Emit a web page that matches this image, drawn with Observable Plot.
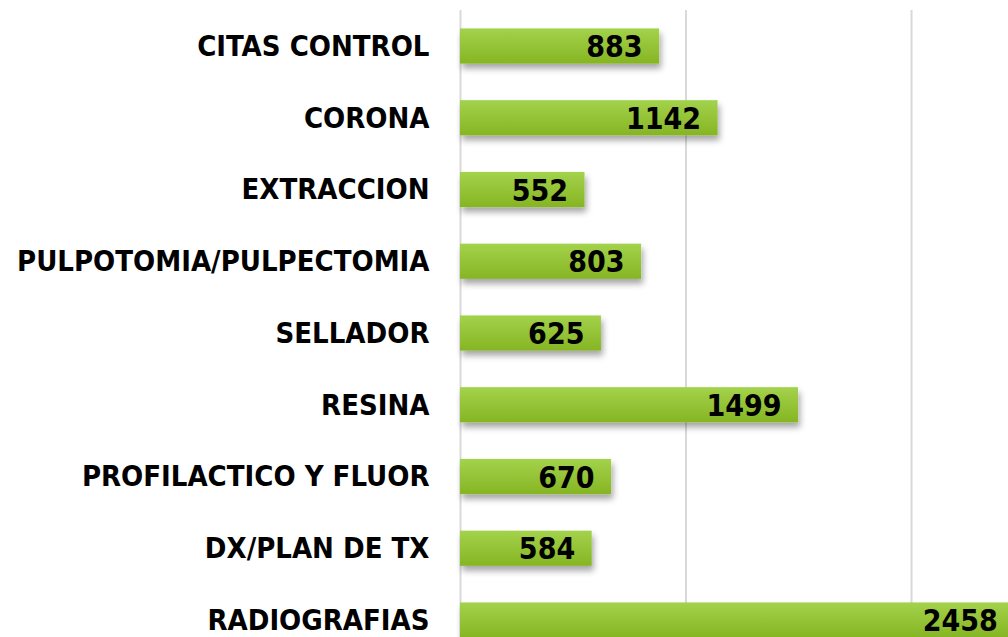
<!DOCTYPE html>
<html>
<head>
<meta charset="utf-8">
<script src="https://cdn.jsdelivr.net/npm/d3@7"></script>
<script src="https://cdn.jsdelivr.net/npm/@observablehq/plot@0.6"></script>
<style>
  html, body { margin: 0; padding: 0; background: #fff; overflow: hidden; }
  #chart { width: 1008px; height: 637px; }
</style>
</head>
<body>
<div id="chart"></div>
<script>
const categories = [
  "CITAS CONTROL",
  "CORONA",
  "EXTRACCION",
  "PULPOTOMIA/PULPECTOMIA",
  "SELLADOR",
  "RESINA",
  "PROFILACTICO Y FLUOR",
  "DX/PLAN DE TX",
  "RADIOGRAFIAS"
];
const values = [883, 1142, 552, 803, 625, 1499, 670, 584, 2458];
const gridTicks = [0, 1000, 2000];

const data = categories.map((c, i) => ({category: c, value: values[i]}));

const FONT = "'DejaVu Sans Condensed', 'DejaVu Sans', sans-serif";

const step = 71.75, pad = 0.51;
const y0 = 46 - step * (1 + pad) / 2;
const y1 = y0 + step * (categories.length + pad);

const chart = Plot.plot({
  width: 1008,
  height: 637,
  marginLeft: 460,
  marginRight: 0,
  marginTop: 10,
  marginBottom: 0,
  style: {fontFamily: FONT, background: "#fff", overflow: "hidden"},
  x: {domain: [0, 2430], axis: null},
  y: {domain: categories, range: [y0, y1], padding: pad, round: false, label: null,
      tickSize: 0, tickPadding: 30},
  marks: [
    Plot.ruleX(gridTicks, {stroke: "#d9d9d9", strokeWidth: 2}),
    Plot.barX(data, {x: "value", y: "category", fill: "url(#barGrad)"}),
    Plot.text(data, {
      x: "value", y: "category", text: d => String(d.value),
      textAnchor: "end", dx: -17, dy: 1,
      fontSize: 30, fontWeight: "bold", fill: "#000"
    }),
    Plot.axisY({tickSize: 0, tickPadding: 31, fontSize: 29, fontWeight: "bold",
      label: null, fill: "#000"})
  ]
});

const svg = d3.select(chart);
const defs = svg.insert("defs", ":first-child");
const g = defs.append("linearGradient").attr("id", "barGrad")
  .attr("x1", 0).attr("y1", 0).attr("x2", 0).attr("y2", 1);
g.append("stop").attr("offset", "0%").attr("stop-color", "#a3d24c");
g.append("stop").attr("offset", "100%").attr("stop-color", "#86b523");
const f = defs.append("filter").attr("id", "shadow")
  .attr("x", "-10%").attr("y", "-30%").attr("width", "130%").attr("height", "180%");
f.append("feDropShadow").attr("dx", 2).attr("dy", 5).attr("stdDeviation", 3)
  .attr("flood-color", "#000").attr("flood-opacity", 0.35);
svg.selectAll("g[aria-label=bar]").attr("filter", "url(#shadow)");
svg.selectAll("g[aria-label='y-axis tick label'] text, g[aria-label='y-axis tick label']")
  .style("font-weight", "bold");

document.getElementById("chart").appendChild(chart);
</script>
</body>
</html>
